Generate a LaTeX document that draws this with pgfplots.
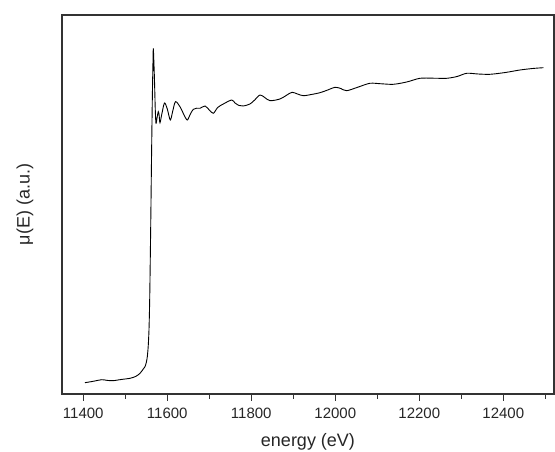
\documentclass[border=0pt]{standalone}
\usepackage{pgfplots}
\pgfplotsset{compat=1.18}
\usepackage{fontspec}
\setmainfont{Liberation Sans}
\begin{document}
\begin{tikzpicture}
\begin{axis}[
  name=ax,
  scale only axis,
  width=492pt, height=379pt,
  xmin=11349.3, xmax=12520.7,
  ymin=0, ymax=379,
  axis line style={line width=1.6pt, black!80},
  xtick={11400,11600,...,12400},
  minor xtick={11500,11700,...,12500},
  scaled x ticks=false,
  xticklabel={\pgfmathprintnumber[fixed,precision=0,1000 sep={}]{\tick}},
  xtick pos=bottom,
  ytick=\empty,
  tick align=outside,
  major tick length=7pt,
  minor tick length=5pt,
  every tick/.style={black!80, line width=1pt},
  /pgf/number format/assume math mode=true,
  /pgf/number format/1000 sep={},
  xticklabel style={font=\fontsize{15}{15}\selectfont, black!85, yshift=-3pt},
  xlabel={energy (eV)},
  ylabel={μ(E) (a.u.)},
  xlabel style={at={(axis description cs:0.5,0)}, anchor=base, yshift=-53pt, font=\fontsize{18}{18}\selectfont, black!85},
  ylabel style={at={(axis description cs:-0.066,0.5)}, anchor=base, font=\fontsize{18}{18}\selectfont, black!85},
]
\addplot[black, line width=0.9pt, smooth, tension=0.5] coordinates {
(11404,11.3) (11425,12.8) (11443.8,14.3) (11457,13.6) (11470.7,13.3) (11490,14.5) (11511.2,15.7)
(11525,17.6) (11535,20.7) (11542,24.5) (11546.9,27.3) (11550,31.5) (11552.4,37.3) (11554.6,48)
(11556.4,64) (11557.8,88) (11558.8,114) (11560.7,174) (11562.4,234) (11564.3,294)
(11566,334) (11566.7,345.7) (11567.8,335) (11569.5,314) (11571.4,284) (11573.1,270.7)
(11575.5,276) (11578.6,282.3) (11580.5,279) (11582.6,271.3) (11587,280) (11593.3,291)
(11600,285) (11607.1,274) (11613,283) (11619.5,292.3) (11630.2,287.3) (11640,279)
(11647.6,274) (11655,280) (11661.9,284.7) (11670,285.8) (11677.9,285.7) (11689.8,288)
(11700,284) (11709.5,280.7) (11720,286.5) (11733.3,290) (11753.3,294) (11761.2,291)
(11771,288.5) (11781,288) (11796.9,290) (11808,294) (11820.7,299) (11832,296.5)
(11844.5,293.3) (11868.3,295) (11883,298.5) (11896.9,301.7) (11910,300) (11923.8,298.3)
(11943,299.5) (11963.5,301.3) (11982,304) (11999.2,306.7) (12013,305.5) (12027.1,303.3)
(12055,307) (12082.5,310.7) (12110,310.2) (12138.1,309.7) (12170,312) (12201.6,315.7)
(12233,315.8) (12265.2,315.7) (12290,317.5) (12312.9,320.7) (12340,320) (12368.3,319.7)
(12405,321.5) (12439.7,324) (12470,325.5) (12495.2,326.3)
};
\end{axis}
\pgfresetboundingbox
\useasboundingbox ([xshift=-62pt,yshift=-58pt]ax.south west) rectangle ([xshift=1pt,yshift=15pt]ax.north east);
\end{tikzpicture}
\end{document}
